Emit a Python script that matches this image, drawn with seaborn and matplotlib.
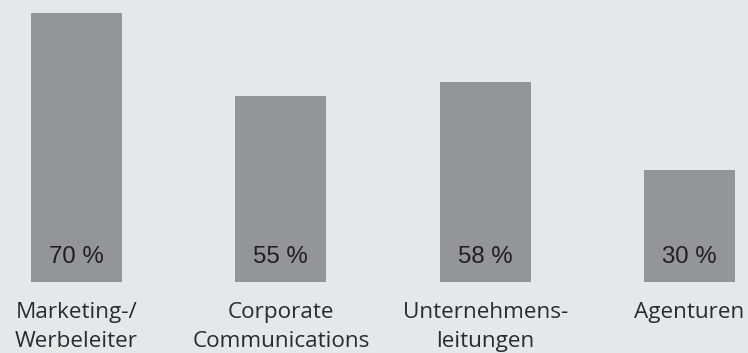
import matplotlib
matplotlib.use("Agg")
import matplotlib.pyplot as plt
import seaborn as sns
import pandas as pd

categories = ["Marketing-/\nWerbeleiter", "Corporate\nCommunications", "Unternehmens-\nleitungen", "Agenturen"]
# bar heights as drawn in the picture (percent scale, top bar = 70)
bar_values = [70.0, 48.4, 52.0, 29.1]
value_labels = ["70 %", "55 %", "58 %", "30 %"]

bg = "#e6e7e9"
bar_color = "#939598"
text_color = "#2b2b2b"

sns.set_theme(style="white")
plt.rcParams["font.family"] = ["Open Sans", "DejaVu Sans"]

fig = plt.figure(figsize=(7.48, 3.53), dpi=100)
fig.patch.set_facecolor(bg)
ax = fig.add_axes([0, 71 / 353, 1, 282 / 353])
ax.set_facecolor(bg)

df = pd.DataFrame({"cat": categories, "val": bar_values})
sns.barplot(data=df, x="cat", y="val", color=bar_color, saturation=1, width=0.445,
            linewidth=0, edgecolor="none", ax=ax)

ax.set_xlim(-76.5 / 204.33, (748 - 76.5) / 204.33)
ax.set_ylim(0, 282 / 3.843)

for i, lab in enumerate(value_labels):
    ax.text(i, 4.9, lab, ha="center", va="baseline", fontsize=17.3,
            color="#231f20", family=["Liberation Sans", "DejaVu Sans"])

for s in ax.spines.values():
    s.set_visible(False)
ax.set_yticks([])
ax.set_xlabel("")
ax.set_ylabel("")
ax.tick_params(axis="x", length=0, pad=14.5, labelsize=16.2, colors=text_color)
for t in ax.get_xticklabels():
    t.set_linespacing(1.5)

fig.savefig("out.png", dpi=100, facecolor=bg)
